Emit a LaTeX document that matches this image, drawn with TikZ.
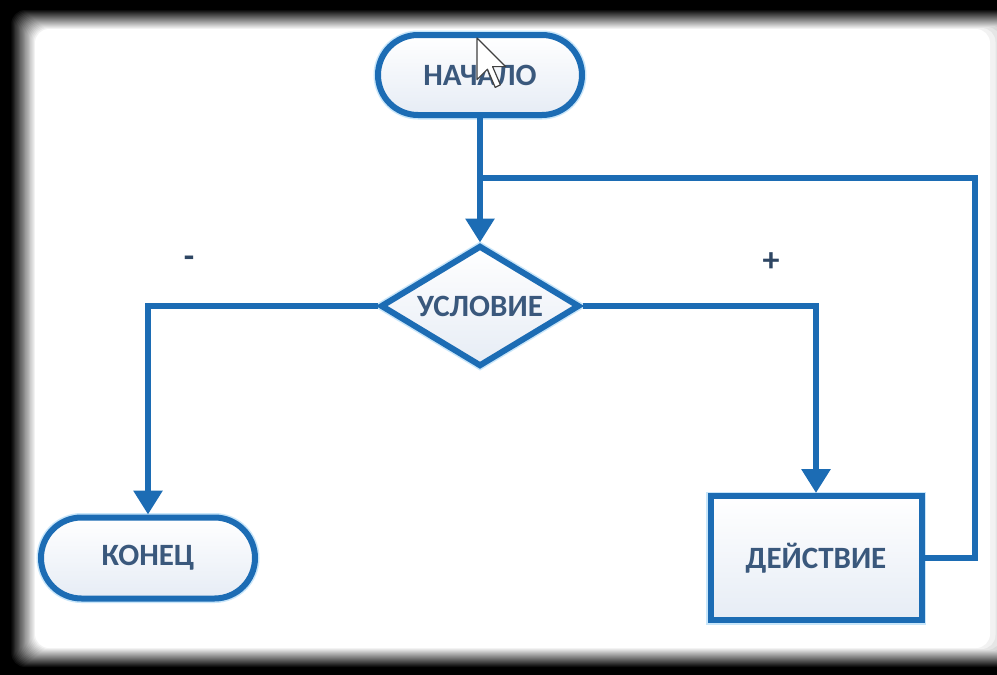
\documentclass[tikz,border=0pt]{standalone}
\usepackage{fontspec}
\setmainfont{Carlito}
\usetikzlibrary{shapes.geometric,shapes.misc,arrows.meta}
\definecolor{flowline}{RGB}{28,108,180}
\definecolor{flowtext}{RGB}{58,88,124}
\definecolor{flowfill}{RGB}{230,236,245}
\definecolor{flowglow}{RGB}{200,230,250}
\begin{document}
\begin{tikzpicture}[x=1pt,y=-1pt,
  shapeline/.style={draw=flowline, line width=6pt, top color=white, bottom color=flowfill,
    preaction={draw=flowglow, line width=9pt}},
  terminal/.style={shapeline, rounded rectangle, inner sep=0pt},
  decision/.style={shapeline, diamond, aspect=1.6, inner sep=0pt},
  process/.style={shapeline, rectangle, inner sep=0pt},
  label/.style={text=flowtext, font=\bfseries\fontsize{31}{31}\selectfont},
  sign/.style={text=flowtext!80!black, font=\bfseries\fontsize{34}{34}\selectfont},
  conn/.style={draw=flowline, line width=6pt},
  arr/.style={conn, -{Triangle[width=28pt,length=24pt]}}]
\useasboundingbox (0,0) rectangle (997,675);
\clip (0,0) rectangle (997,675);
% dark frame with a soft edge; the right side fades only to light grey
\fill[black] (0,0) rectangle (997,675);
\foreach \i in {0,...,20}{
  \pgfmathsetmacro{\shade}{100-5*\i}
  \fill[black!\shade!white, rounded corners=14pt]
    (10+1.25*\i,9+1.0*\i) rectangle (1100-5.5*\i,668-1.0*\i);
}
% nodes
\node[terminal, minimum width=204pt, minimum height=80pt, label] (start) at (480,75) {НАЧАЛО};
\node[decision, minimum width=199pt, minimum height=121pt, label] (cond) at (480,306) {УСЛОВИЕ};
\node[terminal, minimum width=214pt, minimum height=81pt, label] (end) at (148,558) {КОНЕЦ};
\node[process, minimum width=211pt, minimum height=124pt, label] (act) at (816,558) {ДЕЙСТВИЕ};
% branch signs
\node[sign] (minus) at (189,262) {-};
\node[sign] (plus) at (771,262) {+};
% loop corners
\coordinate (join) at (480,178);
\coordinate (loopcorner) at (975,178);
% connectors
\draw[arr] (start.south) -- (cond.north);
\draw[arr] (cond.west) -| (end.north);
\draw[arr] (cond.east) -| (act.north);
\draw[conn, line join=miter] (act.east) -| (loopcorner) -- (join);
% mouse pointer
\begin{scope}[shift={(477,38)}, scale=2.6]
  \fill[white, draw=black!75, line width=1.2pt, line join=round]
    (0,0) -- (0,16) -- (4,12) -- (7,19) -- (9,18) -- (6,11) -- (11,11) -- cycle;
\end{scope}
\end{tikzpicture}
\end{document}
